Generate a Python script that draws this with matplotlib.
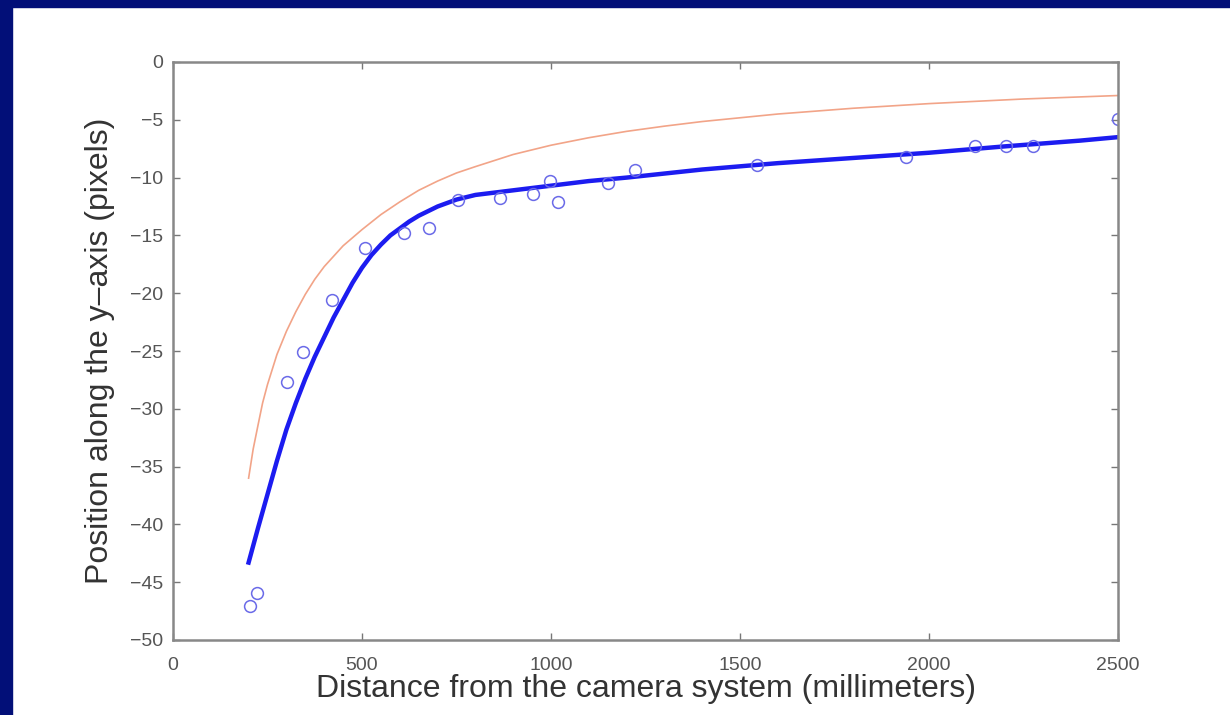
import matplotlib
matplotlib.use("Agg")
import matplotlib.pyplot as plt
from matplotlib.patches import Rectangle

# measured points (circles)
dist_pts = [204, 221, 301, 345, 421, 509, 612, 678, 754, 865, 952, 997, 1018,
            1151, 1222, 1545, 1940, 2122, 2205, 2276, 2500]
pos_pts = [-47.1, -45.9, -27.7, -25.1, -20.6, -16.1, -14.8, -14.4, -11.9, -11.8,
           -11.4, -10.3, -12.1, -10.5, -9.3, -8.9, -8.2, -7.3, -7.3, -7.3, -4.9]

# fitted curve (thick blue)
dist_fit = [200, 225, 250, 275, 300, 325, 350, 375, 400, 425, 450, 475, 500,
            525, 550, 575, 600, 625, 650, 675, 700, 725, 750, 775, 800, 850,
            900, 1000, 1100, 1200, 1400, 1600, 1800, 2000, 2200, 2400, 2500]
pos_fit = [-43.3, -40.3, -37.4, -34.5, -31.8, -29.5, -27.4, -25.5, -23.8, -22.1,
           -20.6, -19.1, -17.8, -16.7, -15.8, -15.0, -14.4, -13.8, -13.3, -12.9,
           -12.5, -12.2, -11.9, -11.7, -11.5, -11.3, -11.1, -10.7, -10.3, -10.0,
           -9.3, -8.75, -8.3, -7.85, -7.3, -6.8, -6.5]

# model curve (thin orange)
dist_model = [200, 212, 225, 237, 250, 275, 300, 325, 350, 375, 400, 450, 500,
              550, 600, 650, 700, 750, 800, 900, 1000, 1100, 1200, 1300, 1400,
              1600, 1800, 2000, 2250, 2500]
pos_model = [-36.0, -33.5, -31.4, -29.5, -27.9, -25.3, -23.3, -21.6, -20.1, -18.8,
             -17.7, -15.9, -14.5, -13.2, -12.1, -11.1, -10.3, -9.6, -9.05, -8.0,
             -7.2, -6.55, -6.0, -5.55, -5.15, -4.5, -4.0, -3.6, -3.2, -2.9]

xticks = [0, 500, 1000, 1500, 2000, 2500]
yticks = [0, -5, -10, -15, -20, -25, -30, -35, -40, -45, -50]

plt.rcParams['font.family'] = ['Liberation Sans', 'DejaVu Sans']

fig = plt.figure(figsize=(12.3, 7.15), dpi=100)
fig.patch.set_facecolor('white')
# navy frame strips (left and top)
navy = '#020f78'
fig.patches.append(Rectangle((0, 0), 12 / 1230, 1, transform=fig.transFigure,
                             color=navy, zorder=0))
fig.patches.append(Rectangle((0, 1 - 7 / 715), 1, 7 / 715, transform=fig.transFigure,
                             color=navy, zorder=0))

ax = fig.add_axes([173 / 1230, 1 - 640 / 715, (1118 - 173) / 1230, (640 - 62) / 715])

ax.plot(dist_model, pos_model, color='#f2a488', lw=1.2)
ax.plot(dist_fit, pos_fit, color='#1c1cf0', lw=3.2)
ax.plot(dist_pts, pos_pts, linestyle='none', marker='o', ms=8.5, mfc='none',
        mec='#6a6ae8', mew=1.1)

ax.set_xlim(0, 2500)
ax.set_ylim(-50, 0)
ax.set_xticks(xticks)
ax.set_yticks(yticks)
ax.tick_params(direction='in', top=True, right=True, length=5, width=1,
               colors='#777777', labelcolor='#555555', labelsize=14)
ax.tick_params(axis='x', pad=12)
ax.tick_params(axis='y', pad=7)
for s in ax.spines.values():
    s.set_color('#888888')
    s.set_linewidth(1.8)

ax.set_xlabel('Distance from the camera system (millimeters)', fontsize=23,
              color='#333333')
ax.set_ylabel('Position along the y\u2013axis (pixels)', fontsize=23,
              color='#333333')
ax.xaxis.set_label_coords(0.5, -0.058)
ax.yaxis.set_label_coords(-0.061, 0.5)

fig.savefig('out.png', dpi=100)
